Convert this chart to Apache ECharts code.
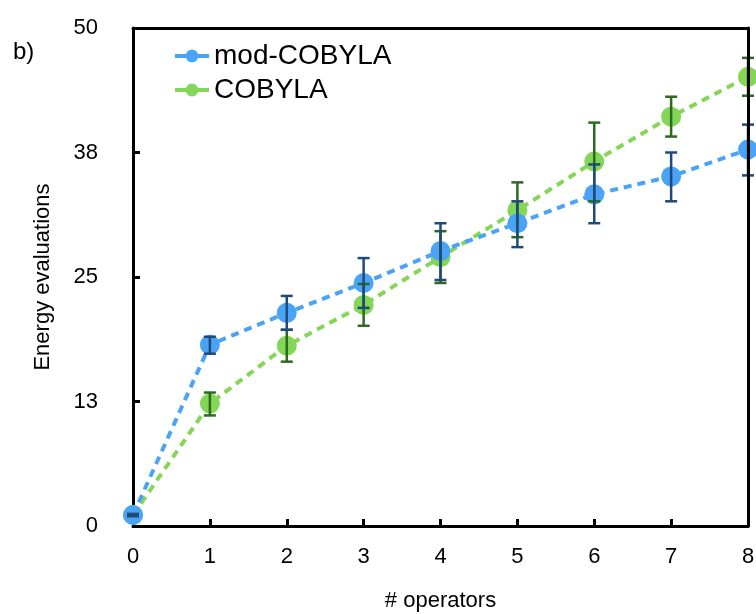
<!DOCTYPE html>
<html>
<head>
<meta charset="utf-8">
<script src="https://cdn.jsdelivr.net/npm/echarts@6/dist/echarts.min.js"></script>
<style>
  html, body { margin: 0; padding: 0; background: #fff; }
  #chart { width: 756px; height: 614px; }
</style>
</head>
<body>
<div id="chart"></div>
<script>
// number of operators on x axis
const operators = [0, 1, 2, 3, 4, 5, 6, 7, 8];

// mod-COBYLA: mean and error bar ends
const modMean = [1.1, 18.2, 21.4, 24.4, 27.6, 30.4, 33.3, 35.1, 37.8];
const modLow  = [1.0, 17.3, 19.7, 21.9, 24.7, 28.0, 30.4, 32.6, 35.2];
const modHigh = [1.2, 19.0, 23.1, 26.9, 30.4, 32.6, 36.3, 37.5, 40.3];

// COBYLA: mean and error bar ends
const cobMean = [1.1, 12.3, 18.1, 22.2, 27.0, 31.7, 36.6, 41.1, 45.1];
const cobLow  = [1.0, 11.1, 16.5, 20.1, 24.4, 29.0, 32.6, 39.1, 43.2];
const cobHigh = [1.2, 13.4, 19.7, 24.3, 29.6, 34.5, 40.5, 43.1, 47.0];

// y tick labels as printed (ticks at 0, 12.5, 25, 37.5, 50)
const yTickLabels = ['0', '13', '25', '38', '50'];

const BLUE = '#4aa3f7';
const BLUE_ERR = '#1f4a7a';
const GREEN = '#84d656';
const GREEN_ERR = '#2d6a1f';
const FONT = 'Liberation Sans, Arial, Helvetica, sans-serif';

const pairs = (ys) => operators.map((x, i) => [x, ys[i]]);
const errData = (lo, hi) => operators.map((x, i) => [x, lo[i], hi[i]]);

// error bars drawn with a custom series
const errorBar = (color) => function (params, api) {
    const x = api.value(0);
    const lo = api.coord([x, api.value(1)]);
    const hi = api.coord([x, api.value(2)]);
    const half = 6;
    const style = { stroke: color, lineWidth: 2.5 };
    return {
        type: 'group',
        children: [
            { type: 'line', shape: { x1: lo[0], y1: lo[1], x2: hi[0], y2: hi[1] }, style: style },
            { type: 'line', shape: { x1: lo[0] - half, y1: lo[1], x2: lo[0] + half, y2: lo[1] }, style: style },
            { type: 'line', shape: { x1: hi[0] - half, y1: hi[1], x2: hi[0] + half, y2: hi[1] }, style: style }
        ]
    };
};

const chart = echarts.init(document.getElementById('chart'));

const option = {
    animation: false,
    backgroundColor: '#fff',
    textStyle: { fontFamily: FONT },
    title: {
        text: 'b)',
        left: 8,
        top: 35,
        textStyle: { fontFamily: FONT, fontSize: 24, fontWeight: 'normal', color: '#000' }
    },
    legend: {
        left: 168,
        top: 37,
        orient: 'vertical',
        itemWidth: 34,
        itemHeight: 16,
        itemGap: 6,
        data: ['mod-COBYLA', 'COBYLA'],
        lineStyle: { type: 'solid', width: 4 },
        textStyle: { fontFamily: FONT, fontSize: 28, lineHeight: 28, color: '#000' }
    },
    grid: { left: 133, right: 8, top: 28, bottom: 88, containLabel: false, outerBoundsMode: 'none' },
    xAxis: [
        {
            type: 'value',
            min: 0, max: 8, interval: 1,
            name: '# operators',
            nameLocation: 'middle',
            nameGap: 64,
            nameTextStyle: { fontFamily: FONT, fontSize: 22, color: '#000' },
            axisLine: { lineStyle: { color: '#000', width: 3 } },
            axisTick: { inside: true, length: 7, lineStyle: { color: '#000', width: 3 } },
            axisLabel: { margin: 20, fontSize: 22, color: '#000', fontFamily: FONT },
            splitLine: { show: false }
        },
        {
            type: 'value',
            position: 'top',
            min: 0, max: 8,
            z: 10,
            axisLine: { onZero: false, lineStyle: { color: '#000', width: 3 } },
            axisTick: { show: false },
            axisLabel: { show: false },
            splitLine: { show: false }
        }
    ],
    yAxis: [
        {
            type: 'value',
            min: 0, max: 50, interval: 12.5,
            name: 'Energy evaluations',
            nameLocation: 'middle',
            nameGap: 79,
            nameTextStyle: { fontFamily: FONT, fontSize: 22, color: '#000' },
            axisLine: { show: true, lineStyle: { color: '#000', width: 3 } },
            axisTick: { show: true, inside: true, length: 7, lineStyle: { color: '#000', width: 3 } },
            axisLabel: {
                margin: 35, fontSize: 22, color: '#000', fontFamily: FONT,
                formatter: (v) => yTickLabels[Math.round(v / 12.5)]
            },
            splitLine: { show: false }
        },
        {
            type: 'value',
            position: 'right',
            min: 0, max: 50,
            z: 10,
            axisLine: { show: true, onZero: false, lineStyle: { color: '#000', width: 3 } },
            axisTick: { show: false },
            axisLabel: { show: false },
            splitLine: { show: false }
        }
    ],
    series: [
        {
            name: 'COBYLA',
            type: 'line',
            data: pairs(cobMean),
            symbol: 'circle',
            symbolSize: 20,
            itemStyle: { color: GREEN },
            lineStyle: { color: GREEN, width: 4, type: [8, 6] },
            z: 2
        },
        {
            name: 'mod-COBYLA',
            type: 'line',
            data: pairs(modMean),
            symbol: 'circle',
            symbolSize: 20,
            itemStyle: { color: BLUE },
            lineStyle: { color: BLUE, width: 4, type: [8, 6] },
            z: 3
        },
        {
            type: 'custom',
            renderItem: errorBar(GREEN_ERR),
            data: errData(cobLow, cobHigh),
            encode: { x: 0, y: [1, 2] },
            clip: false,
            z: 4
        },
        {
            type: 'custom',
            renderItem: errorBar(BLUE_ERR),
            data: errData(modLow, modHigh),
            encode: { x: 0, y: [1, 2] },
            clip: false,
            z: 5
        }
    ]
};

chart.setOption(option);
</script>
</body>
</html>
